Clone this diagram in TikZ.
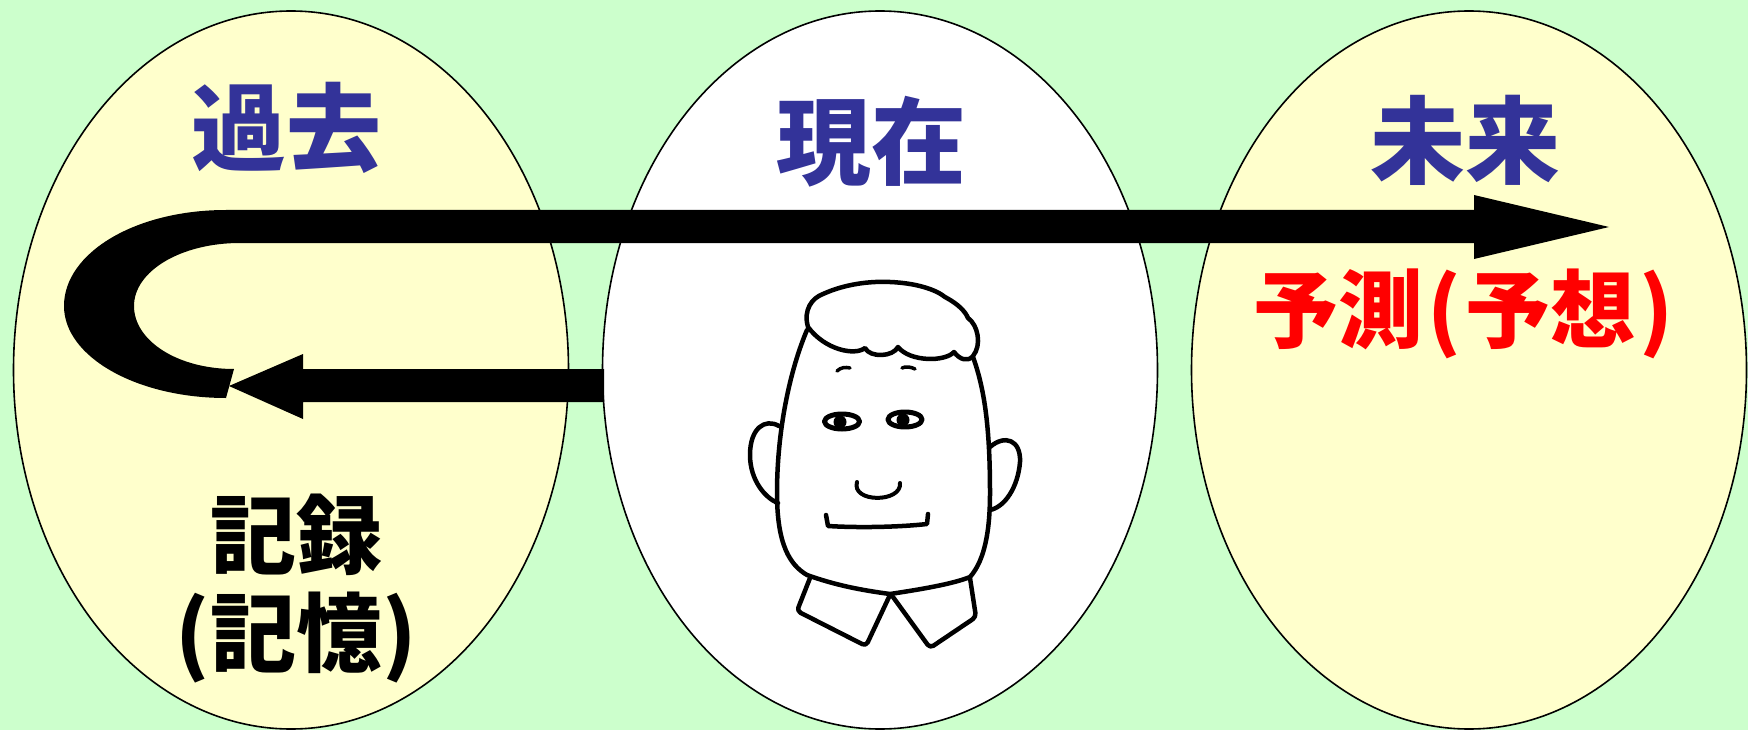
\documentclass[tikz,border=0pt]{standalone}
\usepackage{fontspec}
\newfontfamily\jpfont{Noto Sans CJK JP}
\usetikzlibrary{shapes.geometric}
\definecolor{bggreen}{HTML}{CCFFCC}
\definecolor{paleyellow}{HTML}{FFFFCC}
\definecolor{titleblue}{HTML}{333399}
\tikzset{
  period/.style={ellipse, draw=black, line width=1.6pt, inner sep=0pt,
    minimum width=555pt, minimum height=718pt},
  title/.style={inner sep=0pt, text=titleblue,
    font=\jpfont\bfseries\fontsize{95}{100}\selectfont},
  memo/.style={inner sep=0pt, text=black,
    font=\jpfont\bfseries\fontsize{86}{90}\selectfont},
  guess/.style={inner sep=0pt, text=red,
    font=\jpfont\bfseries\fontsize{85}{90}\selectfont},
  bigarrow/.style={fill=black, draw=none},
  pen/.style={draw=black, line width=4.5pt, line cap=round, line join=round},
}
\begin{document}
\begin{tikzpicture}[x=1pt, y=-1pt]
  % canvas
  \fill[bggreen] (0,0) rectangle (1748,730);
  \useasboundingbox (0,0) rectangle (1748,730);

  % the three periods
  \node[period, fill=paleyellow] (past)    at (291,370) {};
  \node[period, fill=white]      (present) at (880,370) {};
  \node[period, fill=paleyellow] (future)  at (1469,370) {};

  % U-turn arrow running from the past into the future
  \fill[bigarrow]
    (226,210) -- (1474,210) -- (1474,195) -- (1609,227) -- (1474,259)
    -- (1474,243) -- (240,243)
    .. controls (181,243) and (134,271) .. (134,306)
    .. controls (134,341) and (178,369) .. (234,369)
    -- (226,398)
    .. controls (137,398) and (64,357) .. (64,306)
    .. controls (64,253) and (135,210) .. (226,210) -- cycle;

  % arrow from the present back into the past
  \fill[bigarrow]
    (604,369) -- (303,369) -- (303,354) -- (229,386) -- (303,419)
    -- (303,402) -- (604,402) -- cycle;

  % labels
  \node[title] (pastlabel)    at (286,128) {過去};
  \node[title] (presentlabel) at (871,142) {現在};
  \node[title] (futurelabel)  at (1465,140) {未来};
  \node[guess] (forecast)     at (1463,314) {予測\hspace{4pt}(\hspace{4pt}予想\hspace{4pt})};
  \node[memo]  (record)       at (296,535) {記録};
  \node[memo]  (memory)       at (296,638) {(記憶)};

  % face of the person standing in the present
  % hair
  \draw[pen, fill=white]
    (808,327) .. controls (803,310) and (812,298) .. (823,294)
    .. controls (845,284) and (870,281) .. (890,282)
    .. controls (915,283) and (935,289) .. (945,297)
    .. controls (958,304) and (965,311) .. (968,318)
    .. controls (978,325) and (982,345) .. (973,356)
    .. controls (968,362) and (960,360) .. (954,352)
    .. controls (945,362) and (910,362) .. (898,347)
    .. controls (893,357) and (870,358) .. (865,348)
    .. controls (855,356) and (825,350) .. (808,327) -- cycle;
  % head outline
  \draw[pen]
    (807,330) .. controls (790,370) and (777,430) .. (777,493)
    .. controls (777,545) and (790,565) .. (807,575)
    .. controls (835,585) and (860,590) .. (890,594)
    .. controls (930,588) and (955,583) .. (970,577)
    .. controls (985,560) and (990,530) .. (990,493)
    .. controls (990,430) and (985,390) .. (973,357);
  % ears
  \draw[pen]
    (779,426) .. controls (765,418) and (750,428) .. (750,455)
    .. controls (750,480) and (765,498) .. (778,503);
  \draw[pen]
    (990,447) .. controls (1005,434) and (1021,440) .. (1020,462)
    .. controls (1018,487) and (1005,507) .. (990,510);
  % eyebrows
  \draw[pen, line width=3.5pt] (837,371) .. controls (841,367) and (846,367) .. (850,368);
  \draw[pen, line width=3.5pt] (902,368) .. controls (906,366) and (911,367) .. (915,369);
  % eyes
  \draw[pen, line width=5pt] (842,421.5) ellipse [x radius=17.5pt, y radius=7.5pt];
  \fill (840,422) circle [radius=6.5pt];
  \draw[pen, line width=5pt] (905,419.5) ellipse [x radius=17pt, y radius=7.5pt];
  \fill (903,420) circle [radius=6.5pt];
  % nose
  \draw[pen, line width=4pt] (857,482) .. controls (851,503) and (902,503) .. (900,483);
  % mouth
  \draw[pen] (826,515) -- (828,526)
    .. controls (860,528) and (900,527) .. (927,524) -- (928,514);
  % collar
  \draw[pen, rounded corners=4pt] (810,578) -- (797,611) -- (866,646) -- (889,597);
  \draw[pen, rounded corners=4pt] (893,597) -- (930,648) -- (976,617) -- (970,578);
\end{tikzpicture}
\end{document}
